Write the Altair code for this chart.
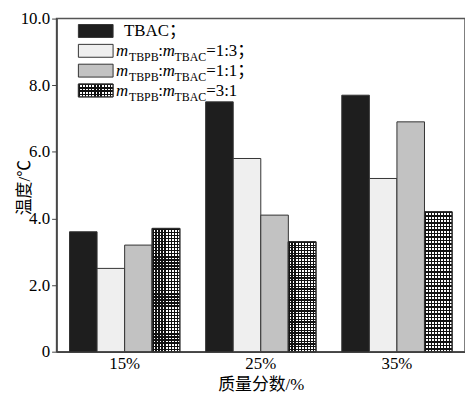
import altair as alt
import pandas as pd

# ---- data ----
categories = ["15%", "25%", "35%"]
series_keys = ["TBAC", "1:3", "1:1", "3:1"]
tbac = [3.6, 7.5, 7.7]
r13 = [2.5, 5.8, 5.2]
r11 = [3.2, 4.1, 6.9]
r31 = [3.7, 3.3, 4.2]
y_ticks = [0, 2, 4, 6, 8, 10]
fills = ["#1e1e1e", "#efefef", "#c2c2c2", "#ffffff"]
legend_ratio = ["=1:3；", "=1:1；", "=3:1"]

rows = []
for key, vals in zip(series_keys, [tbac, r13, r11, r31]):
    for c, v in zip(categories, vals):
        rows.append({"cat": c, "series": key, "value": v})
df = pd.DataFrame(rows)

FONT = "Liberation Serif, Times New Roman, Noto Sans CJK SC"
W, H = 412, 336
FS = 17
SUB = 12


def stripes(n, horizontal, on="#111111", off="#ffffff", frac=0.45):
    """Hard-edged stripe gradient used as a texture (style only)."""
    stops = []
    for i in range(n):
        a = i / n
        b = (i + frac) / n
        c = (i + 1) / n
        stops += [
            alt.GradientStop(offset=a, color=on),
            alt.GradientStop(offset=b, color=on),
            alt.GradientStop(offset=b, color=off),
            alt.GradientStop(offset=c, color=off),
        ]
    if horizontal:
        return alt.LinearGradient(gradient="linear", x1=0, x2=0, y1=0, y2=1, stops=stops)
    return alt.LinearGradient(gradient="linear", x1=0, x2=1, y1=0, y2=0, stops=stops)


x_enc = alt.X(
    "cat:N",
    sort=categories,
    scale=alt.Scale(paddingInner=0.19, paddingOuter=0.095),
    axis=alt.Axis(
        title="质量分数/%",
        ticks=False,
        labelAngle=0,
        labelFont=FONT,
        labelFontSize=FS,
        labelColor="#000",
        labelPadding=4,
        titleFont=FONT,
        titleFontSize=FS,
        titleFontWeight="normal",
        titleColor="#000",
        titleY=33,
        titleBaseline="middle",
        domainColor="#444444",
        domainWidth=1.5,
    ),
)
xo_enc = alt.XOffset(
    "series:N",
    sort=series_keys,
    scale=alt.Scale(domain=series_keys, paddingInner=0, paddingOuter=0),
)
y_enc = alt.Y(
    "value:Q",
    scale=alt.Scale(domain=[0, 10], nice=False),
    axis=alt.Axis(
        values=y_ticks,
        labelExpr="datum.value == 0 ? '0' : format(datum.value, '.1f')",
        grid=False,
        tickSize=5,
        tickColor="#444444",
        labelFont=FONT,
        labelFontSize=FS,
        labelColor="#000",
        labelPadding=2,
        title="温度/℃",
        titleFont=FONT,
        titleFontSize=FS,
        titleFontWeight="normal",
        titleColor="#000",
        titleX=-32,
        titleY=170,
        titleAlign="center",
        titleBaseline="middle",
        domainColor="#444444",
        domainWidth=1.5,
    ),
)

bars = alt.Chart(df).mark_bar(stroke="#333333", strokeWidth=1).encode(
    x=x_enc,
    xOffset=xo_enc,
    y=y_enc,
    fill=alt.Fill(
        "series:N",
        sort=series_keys,
        scale=alt.Scale(domain=series_keys, range=fills),
        legend=None,
    ),
)

# checker texture for the 3:1 series: vertical stripes + horizontal stripes overlay
chk_v = (
    alt.Chart(df)
    .transform_filter(alt.datum.series == "3:1")
    .mark_bar(fill=stripes(9, False), stroke="#333333", strokeWidth=1)
    .encode(x=x_enc, xOffset=xo_enc, y=y_enc)
)
chk_h = (
    alt.Chart(df)
    .transform_filter(alt.datum.series == "3:1")
    .mark_bar(fill=stripes(40, True, off="rgba(255,255,255,0)"), stroke="#333333", strokeWidth=1)
    .encode(x=x_enc, xOffset=xo_enc, y=y_enc)
)

# ---- custom legend (layout constants, in plot-area pixels) ----
one = pd.DataFrame({"a": [0]})
SW_X0, SW_X1 = 22, 57
ROW_TOP0, ROW_STEP, SW_H = 6, 20, 13
BASE0 = 18

layers = [bars, chk_v, chk_h]
for k in range(4):
    top = ROW_TOP0 + ROW_STEP * k
    if k == 3:
        sw_fills = [stripes(11, False), stripes(4, True, off="rgba(255,255,255,0)")]
    else:
        sw_fills = [fills[k]]
    for f in sw_fills:
        layers.append(
            alt.Chart(one)
            .mark_rect(fill=f, stroke="#333333", strokeWidth=1)
            .encode(
                x=alt.value(SW_X0), x2=alt.value(SW_X1), y=alt.value(top), y2=alt.value(top + SW_H)
            )
        )
    base = BASE0 + ROW_STEP * k
    if k == 0:
        pieces = [(68, "TBAC；", FS, "normal", 0)]
    else:
        pieces = [
            (60, "m", FS, "italic", 0),
            (73, "TBPB", SUB, "normal", 5),
            (102.5, ":", FS, "normal", 0),
            (107, "m", FS, "italic", 0),
            (119, "TBAC", SUB, "normal", 5),
            (151, legend_ratio[k - 1], FS, "normal", 0),
        ]
    for px, txt, size, style, dy in pieces:
        layers.append(
            alt.Chart(one)
            .mark_text(
                text=txt,
                font=FONT,
                fontSize=size,
                fontStyle=style,
                align="left",
                baseline="alphabetic",
                color="#000",
            )
            .encode(x=alt.value(px), y=alt.value(base + dy))
        )

chart = (
    alt.layer(*layers)
    .properties(
        width=W,
        height=H,
        padding={"left": 49, "top": 9, "right": 0, "bottom": 40},
        autosize=alt.AutoSizeParams(type="none"),
        background="white",
    )
    .configure_view(stroke="#555555", strokeWidth=1.5)
)

chart.save("out.html", embed_options={"renderer": "svg", "actions": False})
